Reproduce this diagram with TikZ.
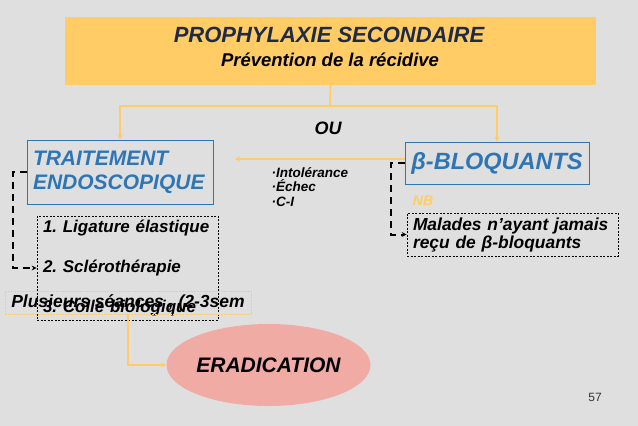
\documentclass[tikz,border=0pt]{standalone}
\usepackage{fontspec}
\setmainfont{Liberation Sans}
\usepackage{xcolor}
\usepackage{tikz}
\usetikzlibrary{shapes,arrows.meta}
\frenchspacing
\definecolor{slidebg}{HTML}{DFDFDF}
\definecolor{gold}{HTML}{FFCC66}
\definecolor{navy}{HTML}{1F2A44}
\definecolor{blueT}{HTML}{2E75B6}
\definecolor{rose}{HTML}{EFABA4}
\tikzset{topbox/.style={rectangle,fill=gold,minimum width=531pt,minimum height=68pt,inner sep=0pt}}
\tikzset{bluebox/.style={rectangle,draw=blueT,line width=0.8pt,text=blueT,inner sep=0pt}}
\tikzset{dotbox/.style={rectangle,draw=black,line width=0.7pt,dash pattern=on 2pt off 1.5pt,inner sep=0pt,align=left}}
\tikzset{oarrow/.style={->,draw=gold,line width=1.6pt}}
\tikzset{dline/.style={->,line width=2pt,dash pattern=on 7pt off 5pt}}
\newcommand{\bisize}[2]{\fontsize{#1}{#2}\selectfont\bfseries\itshape}

\begin{document}
\begin{tikzpicture}[x=1pt,y=-1pt,>={Stealth[length=5pt,width=5pt]}]
    \useasboundingbox[fill=slidebg] (0,0) rectangle (638,426);

    \node[topbox] (top) at (330.5,51) {};
    \node[text=navy,font=\bisize{22}{26}] (ttl) at (329,35) {PROPHYLAXIE SECONDAIRE};
    \node[font=\bisize{18.5}{22}] (sub) at (330,60) {Prévention de la récidive};
    \coordinate (split) at (330,106);

    \node[font=\bisize{18}{21}] (ou) at (328,128) {OU};
    \node[bluebox,minimum height=64pt,text width=174pt,inner xsep=6pt,align=left,font=\bisize{21}{24}] (trait) at (120,172) {TRAITEMENT\\ENDOSCOPIQUE};
    \node[bluebox,minimum width=184pt,minimum height=42pt,font=\bisize{23.5}{27}] (beta) at (497,163) {β-BLOQUANTS};
    \coordinate (fail) at (235,159);
    \node[anchor=north west,align=left,font=\bisize{13.5}{14.5}] (why) at (268,164) {·Intolérance\\·Échec\\·C-I};

    \node[dotbox,minimum height=104pt,text width=169pt,inner xsep=6pt,font=\bisize{17}{40}] (lst) at (127.5,268) {1. Ligature élastique\\2. Sclérothérapie\\3. Colle biologique};
    \node[rectangle,draw=gold,line width=0.6pt,dash pattern=on 2pt off 1pt,minimum width=246pt,minimum height=23pt,inner sep=0pt,font=\bisize{17.5}{20}] (sev) at (128,302.5) {Plusieurs séances , (2-3sem};
    \node[ellipse,fill=rose,minimum width=201pt,minimum height=82pt,inner sep=0pt,font=\bisize{21}{25}] (erad) at (268.5,365) {ERADICATION};

    \node[text=gold,font=\bisize{14}{16}] (nb) at (423,201) {NB};
    \node[dotbox,minimum height=43pt,text width=199pt,inner xsep=6pt,font=\bisize{17.4}{18}] (mal) at (512.5,234.5) {Malades n'ayant jamais\\reçu de β-bloquants};
    \node[text=black!80,font=\fontsize{12}{14}\selectfont] (pg) at (595,397) {57};

    \draw [draw=gold,line width=1.6pt] (top.south) -- (split);
    \draw [oarrow] (split) -| (trait.north);
    \draw [oarrow] (split) -| (beta.north);
    \draw [oarrow] (beta.west |- fail) -- (fail);
    \draw [dline] (trait.west) -- ++(-14,0) |- (lst.west);
    \draw [dline] (beta.west) -- ++(-14,0) |- (mal.west);
    \draw [oarrow] (sev.south) |- (erad.west);
\end{tikzpicture}
\end{document}
